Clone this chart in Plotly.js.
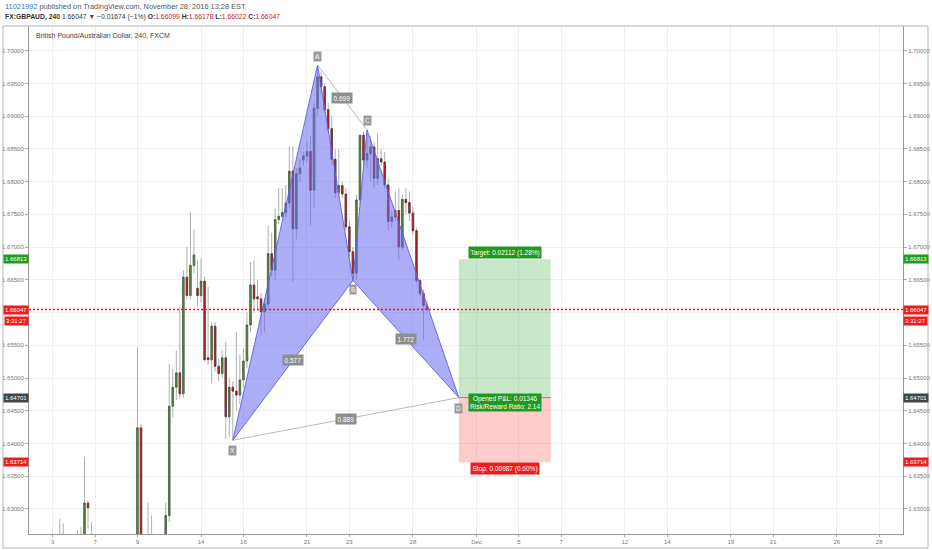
<!DOCTYPE html>
<html>
<head>
<meta charset="utf-8">
<script src="https://cdn.plot.ly/plotly-3.0.1.min.js"></script>
<style>
  html, body { margin: 0; padding: 0; background: #fff; }
  #chart { width: 932px; height: 550px; }
</style>
</head>
<body>
<div id="chart"></div>
<script>
// GBPAUD 4h candles (FXCM), only the bars that reach into the visible price range
const times = [
  '2016-11-03 08:00', '2016-11-03 12:00', '2016-11-04 04:00', '2016-11-04 08:00',
  '2016-11-04 12:00', '2016-11-04 16:00', '2016-11-04 20:00',
  '2016-11-09 00:00', '2016-11-09 04:00', '2016-11-09 12:00', '2016-11-09 16:00',
  '2016-11-10 08:00', '2016-11-10 12:00', '2016-11-10 16:00', '2016-11-10 20:00',
  '2016-11-11 00:00', '2016-11-11 04:00', '2016-11-11 08:00', '2016-11-11 12:00', '2016-11-11 16:00', '2016-11-11 20:00',
  '2016-11-14 00:00', '2016-11-14 04:00', '2016-11-14 08:00', '2016-11-14 12:00', '2016-11-14 16:00', '2016-11-14 20:00',
  '2016-11-15 00:00', '2016-11-15 04:00', '2016-11-15 08:00', '2016-11-15 12:00', '2016-11-15 16:00', '2016-11-15 20:00',
  '2016-11-16 00:00', '2016-11-16 04:00', '2016-11-16 08:00', '2016-11-16 12:00', '2016-11-16 16:00', '2016-11-16 20:00',
  '2016-11-17 00:00', '2016-11-17 04:00', '2016-11-17 08:00', '2016-11-17 12:00', '2016-11-17 16:00', '2016-11-17 20:00',
  '2016-11-18 00:00', '2016-11-18 04:00', '2016-11-18 08:00', '2016-11-18 12:00', '2016-11-18 16:00', '2016-11-18 20:00',
  '2016-11-21 00:00', '2016-11-21 04:00', '2016-11-21 08:00', '2016-11-21 12:00', '2016-11-21 16:00', '2016-11-21 20:00',
  '2016-11-22 00:00', '2016-11-22 04:00', '2016-11-22 08:00', '2016-11-22 12:00', '2016-11-22 16:00', '2016-11-22 20:00',
  '2016-11-23 00:00', '2016-11-23 04:00', '2016-11-23 08:00', '2016-11-23 12:00', '2016-11-23 16:00', '2016-11-23 20:00',
  '2016-11-24 00:00', '2016-11-24 04:00', '2016-11-24 08:00', '2016-11-24 12:00', '2016-11-24 16:00', '2016-11-24 20:00',
  '2016-11-25 00:00', '2016-11-25 04:00', '2016-11-25 08:00', '2016-11-25 12:00', '2016-11-25 16:00', '2016-11-25 20:00',
  '2016-11-28 00:00', '2016-11-28 04:00', '2016-11-28 08:00', '2016-11-28 12:00', '2016-11-28 16:00'
];
const opens = [
  1.6215, 1.6225, 1.6200, 1.6230,
  1.6240, 1.6309, 1.6250,
  1.6205, 1.6424, 1.6190, 1.6215,
  1.6240, 1.6290, 1.6457, 1.6486,
  1.6508, 1.6476, 1.6654, 1.6626, 1.6672, 1.6637,
  1.6626, 1.6648, 1.6531, 1.6528, 1.6579, 1.6518,
  1.6507, 1.6531, 1.6441, 1.6486, 1.6480, 1.6474,
  1.6497, 1.6526, 1.6581, 1.6642, 1.6624, 1.6621,
  1.6601, 1.6613, 1.6690, 1.6665, 1.6742, 1.6747,
  1.6753, 1.6767, 1.6816, 1.6728, 1.6812, 1.6833,
  1.6839, 1.6846, 1.6787, 1.6912, 1.6960, 1.6945,
  1.6910, 1.6881, 1.6834, 1.6783, 1.6794, 1.6781,
  1.6731, 1.6693, 1.6660, 1.6772, 1.6871, 1.6833,
  1.6843, 1.6853, 1.6805, 1.6835, 1.6830, 1.6795,
  1.6739, 1.6746, 1.6756, 1.6700, 1.6773, 1.6768,
  1.6752, 1.6725, 1.6649, 1.6629, 1.66099
];
const highs = [
  1.6285, 1.6278, 1.6267, 1.6272,
  1.6379, 1.6313, 1.6280,
  1.6547, 1.6430, 1.6310, 1.6290,
  1.6310, 1.6522, 1.6515, 1.6542,
  1.6609, 1.6665, 1.6700, 1.6754, 1.6727, 1.6680,
  1.6683, 1.6655, 1.6639, 1.6586, 1.6586, 1.6530,
  1.6542, 1.6555, 1.6500, 1.6495, 1.6570, 1.6535,
  1.6545, 1.6600, 1.6677, 1.6680, 1.6650, 1.6630,
  1.6620, 1.6733, 1.6722, 1.6759, 1.6790, 1.6790,
  1.6795, 1.6854, 1.6854, 1.6820, 1.6835, 1.6845,
  1.6860, 1.6870, 1.6920, 1.6978, 1.6968, 1.6950,
  1.6920, 1.6900, 1.6850, 1.6850, 1.6800, 1.6790,
  1.6740, 1.6700, 1.6780, 1.6871, 1.6876, 1.6879,
  1.6870, 1.6860, 1.6874, 1.6850, 1.6845, 1.6805,
  1.6755, 1.6785, 1.6790, 1.6780, 1.6790, 1.6785,
  1.6762, 1.6730, 1.6652, 1.6635, 1.66178
];
const lows = [
  1.6200, 1.6205, 1.6190, 1.6215,
  1.6232, 1.6270, 1.6235,
  1.6190, 1.6140, 1.6170, 1.6195,
  1.6230, 1.6280, 1.6440, 1.6466,
  1.6469, 1.6470, 1.6620, 1.6620, 1.6660, 1.6610,
  1.6615, 1.6525, 1.6520, 1.6492, 1.6510, 1.6495,
  1.6500, 1.6407, 1.6410, 1.6405, 1.6450, 1.6460,
  1.6485, 1.6515, 1.6570, 1.6600, 1.6605, 1.6565,
  1.6570, 1.6605, 1.6655, 1.6650, 1.6735, 1.6740,
  1.6745, 1.6760, 1.6647, 1.6712, 1.6800, 1.6825,
  1.6830, 1.6733, 1.6760, 1.6900, 1.6935, 1.6905,
  1.6875, 1.6825, 1.6775, 1.6775, 1.6775, 1.6725,
  1.6685, 1.6649, 1.6650, 1.6765, 1.6825, 1.6820,
  1.6800, 1.6790, 1.6795, 1.6825, 1.6790, 1.6725,
  1.6730, 1.6740, 1.6680, 1.6695, 1.6750, 1.6740,
  1.6718, 1.6645, 1.6625, 1.6558, 1.66022
];
const closes = [
  1.6225, 1.6215, 1.6230, 1.6240,
  1.6309, 1.6302, 1.6245,
  1.6424, 1.6160, 1.6215, 1.6225,
  1.6290, 1.6457, 1.6486, 1.6508,
  1.6476, 1.6654, 1.6626, 1.6672, 1.6688, 1.6626,
  1.6648, 1.6528, 1.6528, 1.6579, 1.6518, 1.6507,
  1.6531, 1.6441, 1.6486, 1.6480, 1.6474, 1.6497,
  1.6526, 1.6581, 1.6642, 1.6621, 1.6621, 1.6601,
  1.6613, 1.6690, 1.6665, 1.6742, 1.6747, 1.6753,
  1.6767, 1.6816, 1.6728, 1.6812, 1.6821, 1.6839,
  1.6846, 1.6787, 1.6912, 1.6960, 1.6945, 1.6910,
  1.6881, 1.6834, 1.6783, 1.6794, 1.6781, 1.6731,
  1.6693, 1.6660, 1.6772, 1.6871, 1.6833, 1.6843,
  1.6853, 1.6805, 1.6835, 1.6830, 1.6795, 1.6739,
  1.6746, 1.6756, 1.6700, 1.6773, 1.6768, 1.6752,
  1.6725, 1.6649, 1.6629, 1.6611, 1.66047
];

// XABCD pattern
const patternNames = ['X', 'A', 'B', 'C', 'D'];
const patternTimes = ['2016-11-15 12:00', '2016-11-21 12:00', '2016-11-23 04:00', '2016-11-23 20:00', '2016-11-30 04:00'];
const patternPrices = [1.6405, 1.6978, 1.6649, 1.6879, 1.64701];
// ratio labels: [from point, to point], text, label time (middle of the leg)
const ratioLegs = [[0, 2], [1, 3], [2, 4], [0, 4]];
const ratioTexts = ['0.577', '0.699', '1.772', '0.889'];
const ratioTimes = ['2016-11-18 08:00', '2016-11-22 16:00', '2016-11-25 16:00', '2016-11-22 20:00'];

// long position tool
const entryPrice = 1.64701;
const targetPrice = 1.66813;
const stopPrice = 1.63714;
const positionStart = '2016-11-30 04:00';
const positionEnd = '2016-12-06 12:00';
const positionMid = '2016-12-02 08:00';
const targetText = 'Target: 0.02112 (1.28%)';
const stopText = 'Stop: 0.00987 (0.60%)';
const pnlText = 'Opened P&amp;L: 0.01346<br>Risk/Reward Ratio: 2.14';

const lastPrice = 1.66047;
const countdown = '3:31:27';

const tickDates = ['2016-11-03', '2016-11-07', '2016-11-09', '2016-11-14', '2016-11-16', '2016-11-21',
  '2016-11-23', '2016-11-28', '2016-12-01', '2016-12-05', '2016-12-07', '2016-12-12', '2016-12-14',
  '2016-12-19', '2016-12-21', '2016-12-26', '2016-12-28'];
const tickLabels = ['3', '7', '9', '14', '16', '21', '23', '28', 'Dec', '5', '7', '12', '14', '19', '21', '26', '28'];
// price scale labels; 1.66000 sits under the last-price tag, so it has no label
const priceTicks = [1.630, 1.635, 1.640, 1.645, 1.650, 1.655, 1.665, 1.670, 1.675, 1.680, 1.685, 1.690, 1.695, 1.700];
const hiddenGrid = 1.660;

const green = '#5a8a40';
const red = '#d01b1b';
const tagGreen = '#1e9c1e';
const tagRed = '#ee1c1c';

// bodies only: drop the wicks
const bodyHigh = opens.map((o, i) => Math.max(o, closes[i]));
const bodyLow = opens.map((o, i) => Math.min(o, closes[i]));

const wicks = {
  type: 'candlestick', x: times, open: opens, high: highs, low: lows, close: closes,
  increasing: {line: {color: '#9a9a9a', width: 0.8}, fillcolor: 'rgba(0,0,0,0)'},
  decreasing: {line: {color: '#9a9a9a', width: 0.8}, fillcolor: 'rgba(0,0,0,0)'},
  hoverinfo: 'skip', showlegend: false
};
const bodies = {
  type: 'candlestick', x: times, open: opens, high: bodyHigh, low: bodyLow, close: closes,
  increasing: {line: {color: '#3b4d31', width: 0.6}, fillcolor: green},
  decreasing: {line: {color: '#4a2424', width: 0.6}, fillcolor: red},
  hoverinfo: 'skip', showlegend: false
};

function legTrace(idx, fill) {
  return {
    type: 'scatter', mode: 'lines',
    x: idx.map(i => patternTimes[i]), y: idx.map(i => patternPrices[i]),
    fill: fill ? 'toself' : 'none',
    fillcolor: 'rgba(105,105,240,0.55)',
    line: {color: fill ? 'rgba(95,95,225,0.9)' : '#a8a8a8', width: fill ? 1 : 0.8},
    hoverinfo: 'skip', showlegend: false
  };
}

const data = [
  wicks, bodies,
  legTrace([0, 1, 2, 0], true),
  legTrace([2, 3, 4, 2], true),
  legTrace([1, 3], false),
  legTrace([0, 4], false),
  {type: 'scatter', x: [], y: [], yaxis: 'y2', showlegend: false}
];

const plotL = 29, plotR = 903, plotT = 26, plotB = 534;
const W = 932, H = 550;
const px = v => (v - plotL) / (plotR - plotL);
const py = v => (plotB - v) / (plotB - plotT);

const annotations = [
  {xref: 'paper', yref: 'paper', x: px(3), y: py(6), xanchor: 'left', yanchor: 'middle', showarrow: false,
   text: '<span style="color:#2e7bc0">11021992</span> published on TradingView.com, November 28, 2016 13:28 EST',
   font: {size: 7.4, color: '#555'}},
  {xref: 'paper', yref: 'paper', x: px(3), y: py(16.5), xanchor: 'left', yanchor: 'middle', showarrow: false,
   text: '<b>FX:GBPAUD, 240</b> 1.66047 <span style="color:#c8161d">▼</span> −0.01674 (−1%) ' +
         '<b>O:</b><span style="color:#c8161d">1.66099</span> <b>H:</b><span style="color:#c8161d">1.66178</span> ' +
         '<b>L:</b><span style="color:#c8161d">1.66022</span> <b>C:</b><span style="color:#c8161d">1.66047</span>',
   font: {size: 6.8, color: '#333'}},
  {xref: 'paper', yref: 'paper', x: px(34), y: py(36), xanchor: 'left', yanchor: 'middle', showarrow: false,
   text: 'British Pound/Australian Dollar, 240, FXCM', font: {size: 7, color: '#444'}}
];

// price tags on both axes
const tags = [
  {price: targetPrice, text: targetPrice.toFixed(5), bg: tagGreen, shift: 0},
  {price: lastPrice, text: lastPrice.toFixed(5), bg: tagRed, shift: 0},
  {price: lastPrice, text: countdown, bg: tagRed, shift: -11},
  {price: entryPrice, text: entryPrice.toFixed(5), bg: '#444444', shift: 0},
  {price: stopPrice, text: stopPrice.toFixed(5), bg: tagRed, shift: 0}
];
tags.forEach(t => {
  [[0, 'right'], [1, 'left']].forEach(([x, anchor]) => {
    annotations.push({
      xref: 'paper', yref: 'y', x: x, y: t.price, xanchor: anchor, yanchor: 'middle',
      yshift: t.shift, showarrow: false, text: t.text, bgcolor: t.bg, borderpad: 1,
      font: {size: 6, color: '#fff'}
    });
  });
});

// XABCD letters
const letterShift = {X: -10, A: 9, B: -9, C: 9, D: -11};
patternNames.forEach((n, i) => {
  annotations.push({
    x: patternTimes[i], y: patternPrices[i], yshift: letterShift[n], showarrow: false,
    text: n, bgcolor: '#9a9a9a', borderpad: 1, font: {size: 6.5, color: '#fff'}
  });
});
ratioLegs.forEach((leg, i) => {
  annotations.push({
    x: ratioTimes[i], y: (patternPrices[leg[0]] + patternPrices[leg[1]]) / 2, showarrow: false,
    text: ratioTexts[i], bgcolor: '#8e8e8e', borderpad: 1.5, font: {size: 6.5, color: '#fff'}
  });
});

// position labels
annotations.push(
  {x: positionMid, y: targetPrice, yshift: 7, showarrow: false, text: targetText,
   bgcolor: '#1f9a1f', borderpad: 1.5, font: {size: 6.5, color: '#fff'}},
  {x: positionMid, y: entryPrice, yshift: -5, showarrow: false, text: pnlText,
   bgcolor: '#1f9a1f', borderpad: 1, font: {size: 6.5, color: '#fff'}},
  {x: positionMid, y: stopPrice, yshift: -6, showarrow: false, text: stopText,
   bgcolor: '#f01c1c', borderpad: 1.5, font: {size: 6.5, color: '#fff'}}
);

const shapes = [
  {type: 'line', xref: 'paper', yref: 'y', x0: 0, x1: 1, y0: hiddenGrid, y1: hiddenGrid, layer: 'below',
   line: {color: '#efefef', width: 1}},
  {type: 'rect', xref: 'x', yref: 'y', x0: positionStart, x1: positionEnd, y0: entryPrice, y1: targetPrice,
   fillcolor: 'rgba(76,180,80,0.3)', line: {width: 0}},
  {type: 'rect', xref: 'x', yref: 'y', x0: positionStart, x1: positionEnd, y0: stopPrice, y1: entryPrice,
   fillcolor: 'rgba(255,85,85,0.3)', line: {width: 0}},
  {type: 'line', xref: 'x', yref: 'y', x0: positionStart, x1: positionEnd, y0: entryPrice, y1: entryPrice,
   line: {color: '#8a8a8a', width: 1}},
  {type: 'line', xref: 'paper', yref: 'y', x0: 0, x1: 1, y0: lastPrice, y1: lastPrice,
   line: {color: '#ff1010', width: 1.5, dash: '2px,2px'}},
  // outer frame
  {type: 'rect', xref: 'paper', yref: 'paper', x0: px(3), x1: px(928), y0: py(548), y1: py(26),
   line: {color: '#b4b4b4', width: 1}, fillcolor: 'rgba(0,0,0,0)'}
];

const priceAxis = {
  range: [1.62618, 1.70377],
  tickvals: priceTicks, tickformat: '.5f',
  tickfont: {size: 6, color: '#777'},
  ticks: 'outside', ticklen: 3, tickcolor: '#aaa',
  showgrid: true, gridcolor: '#efefef', zeroline: false,
  showline: true, linecolor: '#999', linewidth: 1,
  fixedrange: true
};

const layout = {
  width: W, height: H,
  margin: {l: plotL, r: W - plotR, t: plotT, b: H - plotB},
  paper_bgcolor: '#fff', plot_bgcolor: '#fff',
  font: {family: 'Liberation Sans, Arial, sans-serif', size: 7, color: '#444'},
  showlegend: false,
  boxgap: 0.38,
  xaxis: {
    type: 'date',
    range: ['2016-11-01 21:10', '2016-12-29 03:00'],
    rangebreaks: [{bounds: ['sat', 'mon']}],
    tickvals: tickDates, ticktext: tickLabels,
    tickfont: {size: 6, color: '#777'},
    ticks: 'outside', ticklen: 2, tickcolor: '#aaa',
    showgrid: true, gridcolor: '#efefef', zeroline: false,
    showline: true, linecolor: '#999', linewidth: 1,
    rangeslider: {visible: false},
    fixedrange: true
  },
  yaxis: Object.assign({side: 'left'}, priceAxis),
  yaxis2: Object.assign({side: 'right', overlaying: 'y'}, priceAxis, {showgrid: false}),
  shapes: shapes,
  annotations: annotations
};

Plotly.newPlot('chart', data, layout, {displayModeBar: false, staticPlot: true});
</script>
</body>
</html>
